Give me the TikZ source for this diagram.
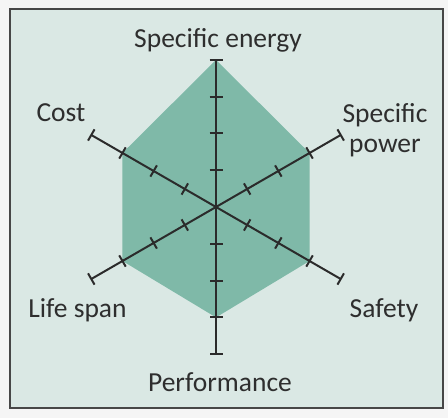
\documentclass[tikz,border=0pt]{standalone}
\usepackage{fontspec}
\setmainfont{Carlito}
\usetikzlibrary{calc}
\definecolor{outerbg}{HTML}{F5F5F5}
\definecolor{panel}{HTML}{DAE8E4}
\definecolor{frameline}{HTML}{474747}
\definecolor{polyfill}{HTML}{7FB9A8}
\definecolor{axisline}{HTML}{2B2B2B}
\definecolor{labeltext}{HTML}{2E2E2E}
\tikzset{
  axisstyle/.style={draw=axisline, line width=2pt},
  tickstyle/.style={draw=axisline, line width=2pt},
  lbl/.style={text=labeltext, font=\fontsize{27.5}{30}\selectfont, inner sep=0pt, anchor=base},
}
\begin{document}
\begin{tikzpicture}[x=1pt,y=1pt]
\useasboundingbox (0,0) rectangle (448,418);
\fill[outerbg] (0,0) rectangle (448,418);
\draw[fill=panel, draw=frameline, line width=2pt] (9.5,9.5) rectangle (442.5,408.5);
\coordinate (C) at (216,211);
% polygon
\fill[polyfill] ($(C)+(90:147)$) -- ($(C)+(30:108)$) -- ($(C)+(-30:108)$) -- ($(C)+(-90:110.4)$) -- ($(C)+(-150:108)$) -- ($(C)+(150:108)$) -- cycle;
% axes
\foreach \ang/\u/\nm in {90/36.8/se, -90/36.8/pf, 30/36/sp, -30/36/sf, -150/36/ls, 150/36/co}{
  \coordinate (\nm-end) at ($(C)+(\ang:4*\u)$);
  \draw[axisstyle] (C) -- (\nm-end);
  \foreach \k in {1,2,3,4}{
    \coordinate (\nm-t\k) at ($(C)+(\ang:\k*\u)$);
    \draw[tickstyle] ($(\nm-t\k)+(\ang+90:6.5)$) -- ($(\nm-t\k)+(\ang-90:6.5)$);
  }
}
% labels
\node[lbl] (lse) at (218,370) {Specific energy};
\node[lbl] (lco) at (61,296) {Cost};
\node[lbl, align=center] (lsp) at (385,265) {Specific\\power};
\node[lbl] (lls) at (77.5,100) {Life span};
\node[lbl] (lsf) at (384,100) {Safety};
\node[lbl] (lpf) at (220,26) {Performance};
\end{tikzpicture}
\end{document}
